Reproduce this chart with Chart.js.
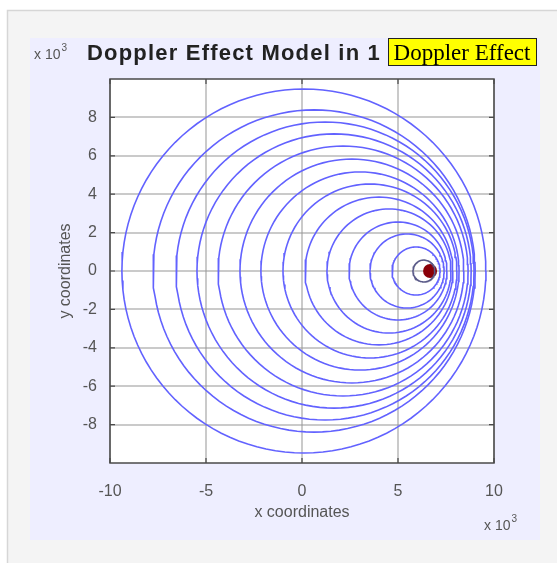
<!DOCTYPE html>
<html>
<head>
<meta charset="utf-8">
<script src="https://cdn.jsdelivr.net/npm/chart.js"></script>
<style>
  html, body { margin: 0; padding: 0; background: #ffffff; }
  #wrap { position: absolute; left: 0; top: 0; width: 557px; height: 563px; }
</style>
</head>
<body>
<div id="wrap"><canvas id="figure_doppler" width="557" height="563"></canvas></div>
<script>
// wave fronts (metres), oldest first
const waveCentreX = [100, 630, 1200, 1670, 2140, 2600, 3020, 3540, 4010, 4530, 5000, 5470, 5940, 6350];
const waveRadius = [9480, 8390, 7760, 7140, 6510, 5830, 5160, 4530, 3850, 3230, 2550, 1930, 1250, 570];
const sourcePos = [{ x: 6670, y: 0 }];
const xTicks = [-10000, -5000, 0, 5000, 10000];
const yTicks = [-8000, -6000, -4000, -2000, 0, 2000, 4000, 6000, 8000];

const textGrey = '#555555';

function circlePoints(cx, r) {
	const pts = [];
	const steps = 120;
	for (let i = 0; i <= steps; i++) {
		const a = (i / steps) * Math.PI * 2;
		pts.push({ x: cx + r * Math.cos(a), y: r * Math.sin(a) });
	}
	return pts;
}

function exponent(ctx, x, y) {
	ctx.font = '14px Arial, "Liberation Sans", sans-serif';
	ctx.fillText('x 10', x, y);
	const w = ctx.measureText('x 10').width;
	ctx.font = '10px Arial, "Liberation Sans", sans-serif';
	ctx.fillText('3', x + w + 1, y - 8);
}

const frame = {
	id: 'frame',
	beforeDraw(chart) {
		const ctx = chart.ctx;
		ctx.save();
		// outer panel
		ctx.fillStyle = '#f4f4f4';
		ctx.fillRect(7, 10, 560, 560);
		ctx.strokeStyle = '#d6d6d6';
		ctx.lineWidth = 1.5;
		ctx.strokeRect(7.5, 10.5, 560, 560);
		// figure background
		ctx.fillStyle = '#eeeeff';
		ctx.fillRect(30, 38, 510, 502);
		// axes background
		const a = chart.chartArea;
		ctx.fillStyle = '#ffffff';
		ctx.fillRect(a.left, a.top, a.right - a.left, a.bottom - a.top);
		ctx.restore();
	},
	afterDraw(chart) {
		const ctx = chart.ctx;
		const a = chart.chartArea;
		const xs = chart.scales.x, ys = chart.scales.y;
		ctx.save();
		// box and inner ticks
		ctx.strokeStyle = '#4a4a4a';
		ctx.lineWidth = 1.5;
		ctx.strokeRect(a.left, a.top, a.right - a.left, a.bottom - a.top);
		ctx.lineWidth = 1.2;
		ctx.beginPath();
		yTicks.forEach(v => {
			const p = ys.getPixelForValue(v);
			ctx.moveTo(a.left, p); ctx.lineTo(a.left + 5, p);
			ctx.moveTo(a.right, p); ctx.lineTo(a.right - 5, p);
		});
		xTicks.forEach(v => {
			const p = xs.getPixelForValue(v);
			ctx.moveTo(p, a.bottom); ctx.lineTo(p, a.bottom - 5);
			ctx.moveTo(p, a.top); ctx.lineTo(p, a.top + 5);
		});
		ctx.stroke();

		// exponent labels
		ctx.fillStyle = textGrey;
		ctx.textBaseline = 'alphabetic';
		ctx.textAlign = 'left';
		exponent(ctx, 34, 59);
		exponent(ctx, 484, 530);

		// title
		ctx.fillStyle = '#222222';
		ctx.font = 'bold 22px Arial, "Liberation Sans", sans-serif';
		ctx.letterSpacing = '1.2px';
		ctx.fillText('Doppler Effect Model in 1', 87, 60);
		ctx.letterSpacing = '0px';

		// yellow label
		ctx.fillStyle = '#ffff00';
		ctx.fillRect(388, 38, 149, 28);
		ctx.strokeStyle = '#222222';
		ctx.lineWidth = 1;
		ctx.strokeRect(388.5, 38.5, 148, 27);
		ctx.fillStyle = '#000000';
		ctx.font = '23px "Times New Roman", "Liberation Serif", serif';
		ctx.textAlign = 'center';
		ctx.fillText('Doppler Effect', 462, 60);

		// axis titles
		ctx.fillStyle = textGrey;
		ctx.font = '16px Arial, "Liberation Sans", sans-serif';
		ctx.fillText('x coordinates', (a.left + a.right) / 2, 517);
		ctx.translate(70, (a.top + a.bottom) / 2);
		ctx.rotate(-Math.PI / 2);
		ctx.fillText('y coordinates', 0, 0);
		ctx.restore();
	}
};

const datasets = waveCentreX.map((cx, i) => ({
	label: 'wave ' + (i + 1),
	data: circlePoints(cx, waveRadius[i]),
	showLine: true,
	borderColor: i === waveCentreX.length - 1 ? '#5a5a88' : '#6262ff',
	borderWidth: 1.6,
	pointRadius: 0,
	fill: false,
	order: 1
}));
datasets.push({
	label: 'source',
	data: sourcePos,
	pointRadius: 7,
	backgroundColor: '#8a0008',
	borderColor: '#8a0008',
	borderWidth: 0,
	order: 2
});

new Chart(document.getElementById('figure_doppler'), {
	type: 'scatter',
	data: { datasets: datasets },
	options: {
		responsive: false,
		animation: false,
		layout: { padding: { left: 30, right: 63, top: 79, bottom: 60 } },
		plugins: { legend: { display: false }, tooltip: { enabled: false }, title: { display: false } },
		scales: {
			x: {
				type: 'linear',
				min: -10000, max: 10000,
				afterBuildTicks: s => { s.ticks = xTicks.map(v => ({ value: v })); },
				afterFit: s => { s.height = 40; },
				grid: { color: 'rgba(150,150,150,0.5)', lineWidth: 2, drawTicks: false },
				border: { display: false },
				ticks: {
					padding: 19,
					color: textGrey,
					font: { family: 'Arial, "Liberation Sans", sans-serif', size: 16 },
					callback: v => String(v / 1000),
					maxRotation: 0
				}
			},
			y: {
				type: 'linear',
				min: -10000, max: 10000,
				afterBuildTicks: s => { s.ticks = yTicks.map(v => ({ value: v })); },
				afterFit: s => { s.width = 80; },
				grid: { color: 'rgba(150,150,150,0.5)', lineWidth: 2, drawTicks: false },
				border: { display: false },
				ticks: {
					padding: 13,
					color: textGrey,
					font: { family: 'Arial, "Liberation Sans", sans-serif', size: 16 },
					callback: v => String(v / 1000)
				}
			}
		}
	},
	plugins: [frame]
});
</script>
</body>
</html>
